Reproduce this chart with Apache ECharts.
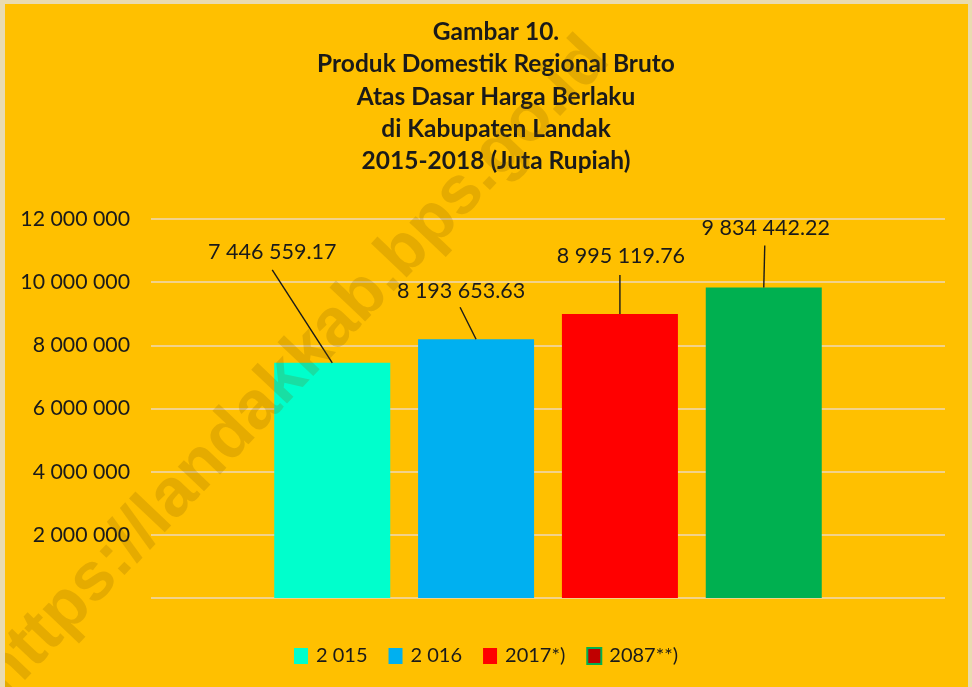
<!DOCTYPE html>
<html>
<head>
<meta charset="utf-8">
<script src="https://cdn.jsdelivr.net/npm/echarts@6/dist/echarts.min.js"></script>
<style>
  html, body { margin: 0; padding: 0; background: #e9dbb0; }
  #chart { position: absolute; left: 5px; top: 4px; width: 963px; height: 683px; background: #FFC000; }
</style>
</head>
<body>
<div id="chart"></div>
<script>
// data
const categories = [''];
const seriesNames = ['2 015', '2 016', '2017*)', '2087**)'];
const seriesValues = [7446559.17, 8193653.63, 8995119.76, 9834442.22];
const yTicks = [0, 2000000, 4000000, 6000000, 8000000, 10000000, 12000000];

const barColors = ['#00FFCC', '#00B0F0', '#FF0000', '#00B050'];
const BAR_W = 116, BAR_GAP = '24%';
// value label centre, relative to the top centre of its bar
const labelOffsets = [[-60, -111], [-15, -48], [1, -58], [2, -59]];
// leader line end, relative to the top centre of its bar
const lineOffsets = [[-60, -93], [-16, -32], [0, -39], [1, -42]];

const FONT = 'Lato';
const INK = '#1a1a1a';

function spaced(v, dec) {
  let s = v.toFixed(dec).split('.');
  s[0] = s[0].replace(/\B(?=(\d{3})+(?!\d))/g, ' ');
  return s.join('.');
}

let myChart = echarts.init(document.getElementById('chart'));

let series = seriesNames.map((name, i) => ({
  name: name,
  type: 'bar',
  data: [seriesValues[i]],
  barWidth: BAR_W,
  barGap: BAR_GAP,
  itemStyle: { color: barColors[i] },
  label: {
    show: true,
    position: 'top',
    color: INK,
    fontFamily: FONT,
    fontSize: 21.5,
    formatter: p => spaced(p.value, 2)
  },
  labelLayout: params => {
    let cx = params.rect.x + params.rect.width / 2;
    let o = labelOffsets[i];
    return { x: cx + o[0], y: params.rect.y + o[1], align: 'center', verticalAlign: 'middle' };
  }
}));

// leader lines from each bar top to its label
series.push({
  name: 'leader',
  type: 'custom',
  silent: true,
  z: 5,
  data: seriesValues.map((v, i) => [0, v, i]),
  encode: { x: 0, y: 1 },
  renderItem: (params, api) => {
    let i = api.value(2);
    let layout = api.barLayout({ count: seriesValues.length, barWidth: BAR_W, barGap: BAR_GAP });
    let pt = api.coord([api.value(0), api.value(1)]);
    let x = pt[0] + layout[i].offsetCenter;
    let o = lineOffsets[i];
    return {
      type: 'line',
      shape: { x1: x, y1: pt[1], x2: x + o[0], y2: pt[1] + o[1] },
      style: { stroke: INK, lineWidth: 1.4 }
    };
  }
});

myChart.setOption({
  animation: false,
  title: {
    text: 'Gambar 10.\nProduk Domestik Regional Bruto\nAtas Dasar Harga Berlaku\ndi Kabupaten Landak\n2015-2018 (Juta Rupiah)',
    left: 491,
    textAlign: 'center',
    top: 12,
    padding: 0,
    textStyle: {
      fontFamily: FONT,
      fontWeight: 'bold',
      fontSize: 24.5,
      lineHeight: 32.3,
      color: INK
    }
  },
  grid: { left: 146, right: 23, top: 215, bottom: 89, containLabel: false },
  legend: {
    left: 284,
    top: 637,
    icon: 'rect',
    itemWidth: 14,
    itemHeight: 16,
    itemGap: 21,
    textStyle: { fontFamily: FONT, fontSize: 20, color: INK, padding: [0, 0, 0, 3] },
    data: seriesNames.map((n, i) => i === 3
      ? { name: n, itemStyle: { color: '#C00000', borderColor: '#00B050', borderWidth: 2 } }
      : { name: n })
  },
  xAxis: {
    type: 'category',
    data: categories,
    axisLine: { show: false },
    axisTick: { show: false },
    axisLabel: { show: false }
  },
  yAxis: {
    type: 'value',
    min: yTicks[0],
    max: yTicks[yTicks.length - 1],
    interval: yTicks[1] - yTicks[0],
    axisLine: { show: false },
    axisTick: { show: false },
    axisLabel: {
      margin: 21,
      fontFamily: FONT,
      fontSize: 21.3,
      color: INK,
      formatter: v => v === 0 ? '' : spaced(v, 0)
    },
    splitLine: { lineStyle: { color: '#F2D28A', width: 2 } }
  },
  graphic: [{
    type: 'text',
    x: 290,
    y: 364,
    rotation: 46.5 * Math.PI / 180,
    z: 100,
    silent: true,
    style: {
      text: 'https://landakkab.bps.go.id',
      fontFamily: 'Liberation Sans',
      fontWeight: 'bold',
      fontSize: 68,
      fill: 'rgba(125,92,0,0.2)',
      align: 'center',
      verticalAlign: 'middle'
    }
  }],
  series: series
});
</script>
</body>
</html>
